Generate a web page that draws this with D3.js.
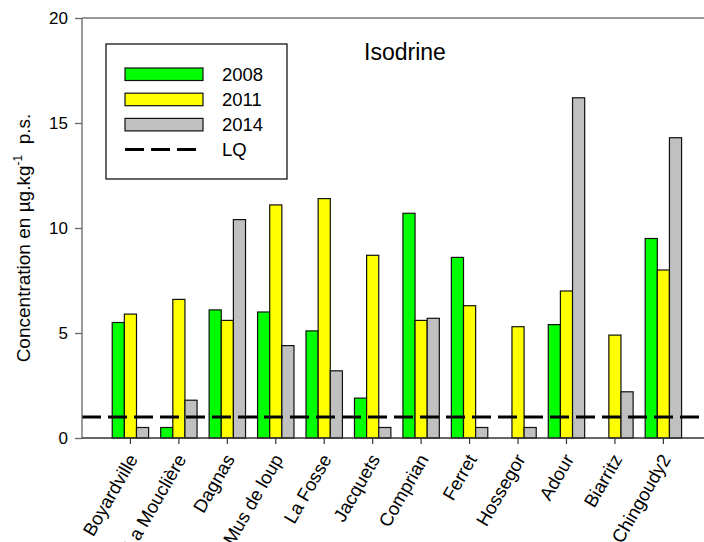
<!DOCTYPE html>
<html lang="en">
    <head>
        <meta charset="utf-8">
        <title>Isodrine</title>
        <script src="https://d3js.org/d3.v7.min.js"></script>
        <style type="text/css">
            body { margin: 0; background: #fff; }
            text { font-family: Arial, "Liberation Sans", sans-serif; fill: #000; }
        </style>
    </head>
    <body>
        <script type="text/javascript">

            const w = 704;
            const h = 542;

            // data
            const sites = ["Boyardville", "La Mouclière", "Dagnas", "Mus de loup", "La Fosse", "Jacquets",
                           "Comprian", "Ferret", "Hossegor", "Adour", "Biarritz", "Chingoudy2"];
            const years = ["2008", "2011", "2014"];
            const v2008 = [5.5, 0.5, 6.1, 6.0, 5.1, 1.9, 10.7, 8.6, null, 5.4, null, 9.5];
            const v2011 = [5.9, 6.6, 5.6, 11.1, 11.4, 8.7, 5.6, 6.3, 5.3, 7.0, 4.9, 8.0];
            const v2014 = [0.5, 1.8, 10.4, 4.4, 3.2, 0.5, 5.7, 0.5, 0.5, 16.2, 2.2, 14.3];
            const lq = 1;
            const yTicks = [0, 5, 10, 15, 20];
            const colors = ["#00ff00", "#ffff00", "#c0c0c0"];

            const series = [v2008, v2011, v2014];
            const rows = [];
            sites.forEach((s, i) => {
                years.forEach((y, j) => {
                    if (series[j][i] != null) rows.push({site: s, year: y, value: series[j][i]});
                });
            });

            const pLeft = 82, pRight = 704, pTop = 18, pBottom = 438;

            const xScale = d3.scaleBand()
                             .domain(sites)
                             .range([pLeft + 24.2, pLeft + 24.2 + 12 * 48.45]);

            const xInner = d3.scaleBand()
                             .domain(years)
                             .range([-18.2, 18.2]);

            const yScale = d3.scaleLinear()
                             .domain([0, 20])
                             .range([pBottom, pTop]);

            const myColor = d3.scaleOrdinal().domain(years).range(colors);

            const svg = d3.select("body")
                          .append("svg")
                          .attr("width", w)
                          .attr("height", h);

            // bars
            svg.append("g")
               .selectAll("rect")
               .data(rows)
               .enter()
               .append("rect")
               .attr("x", d => xScale(d.site) + xScale.bandwidth() / 2 + xInner(d.year))
               .attr("y", d => yScale(d.value))
               .attr("width", xInner.bandwidth())
               .attr("height", d => yScale(0) - yScale(d.value))
               .style("fill", d => myColor(d.year))
               .style("stroke", "#111")
               .style("stroke-width", 1.2);

            // LQ line
            svg.append("line")
               .attr("x1", pLeft)
               .attr("x2", pRight)
               .attr("y1", yScale(lq))
               .attr("y2", yScale(lq))
               .style("stroke", "#000")
               .style("stroke-width", 3)
               .style("stroke-dasharray", "19,7");

            // axes
            const leftAxis = d3.axisLeft(yScale)
                               .tickValues(yTicks)
                               .tickSize(7)
                               .tickPadding(7);

            const gy = svg.append("g")
                          .attr("transform", "translate(" + pLeft + ",0)")
                          .call(leftAxis);
            gy.select(".domain").remove();
            gy.selectAll("line").style("stroke", "#666").style("stroke-width", 1.3);
            gy.selectAll("text").style("font-size", "17px").style("font-family", "Arial, 'Liberation Sans', sans-serif");

            svg.append("line")
               .attr("x1", pLeft).attr("x2", pLeft)
               .attr("y1", pTop).attr("y2", pBottom)
               .style("stroke", "#666").style("stroke-width", 1.3);
            svg.append("line")
               .attr("x1", pLeft).attr("x2", pRight)
               .attr("y1", pTop).attr("y2", pTop)
               .style("stroke", "#777").style("stroke-width", 1.3);

            const bottomAxis = d3.axisBottom(xScale)
                                 .tickSize(6)
                                 .tickFormat("");

            const gx = svg.append("g")
                          .attr("transform", "translate(0," + pBottom + ")")
                          .call(bottomAxis);
            gx.select(".domain").remove();
            gx.selectAll("line").style("stroke", "#333").style("stroke-width", 1.2);

            svg.append("line")
               .attr("x1", pLeft).attr("x2", pRight)
               .attr("y1", pBottom).attr("y2", pBottom)
               .style("stroke", "#333").style("stroke-width", 1.3);

            svg.append("g")
               .selectAll("text")
               .data(sites)
               .enter()
               .append("text")
               .attr("transform", d => "translate(" + (xScale(d) + xScale.bandwidth() / 2 + 8) + "," + (pBottom + 21) + ") rotate(-60)")
               .style("text-anchor", "end")
               .style("font-size", "18.5px")
               .text(d => d);

            // y title
            const yTitle = svg.append("text")
                              .attr("transform", "translate(30,238) rotate(-90)")
                              .style("text-anchor", "middle")
                              .style("font-size", "19px");
            yTitle.append("tspan").text("Concentration en µg.kg");
            yTitle.append("tspan").attr("dy", -8).style("font-size", "12px").text("-1");
            yTitle.append("tspan").attr("dy", 8).text("\u00a0 p.s.");

            // title
            svg.append("text")
               .attr("x", 364)
               .attr("y", 60)
               .style("font-size", "23px")
               .text("Isodrine");

            // legend
            svg.append("rect")
               .attr("x", 106).attr("y", 44)
               .attr("width", 181).attr("height", 135)
               .style("fill", "#fff")
               .style("stroke", "#000")
               .style("stroke-width", 1.2);

            const legend = svg.selectAll(".legend")
                              .data(years)
                              .enter().append("g")
                              .attr("class", "legend")
                              .attr("transform", (d, i) => `translate(0,${68 + i * 25.2})`);

            legend.append("rect")
                  .attr("x", 125)
                  .attr("width", 78)
                  .attr("height", 12.5)
                  .style("fill", d => myColor(d))
                  .style("stroke", "#111")
                  .style("stroke-width", 1.2);

            legend.append("text")
                  .attr("x", 222)
                  .attr("y", 6.5)
                  .attr("dy", ".35em")
                  .style("font-size", "18.5px")
                  .text(d => d);

            svg.append("line")
               .attr("x1", 125).attr("x2", 196)
               .attr("y1", 149.5).attr("y2", 149.5)
               .style("stroke", "#000")
               .style("stroke-width", 3)
               .style("stroke-dasharray", "19,7");

            svg.append("text")
               .attr("x", 222)
               .attr("y", 149.5)
               .attr("dy", ".35em")
               .style("font-size", "18.5px")
               .text("LQ");

        </script>
    </body>
</html>
